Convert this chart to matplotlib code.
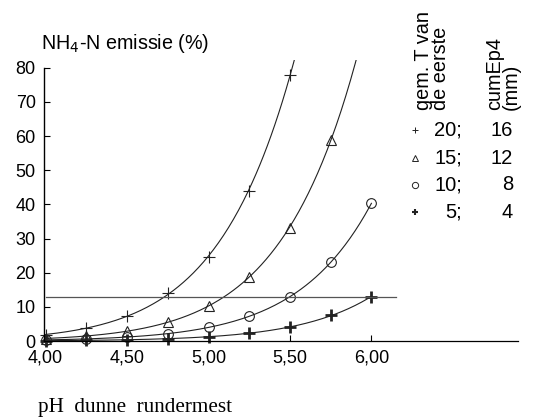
import numpy as np
import matplotlib
matplotlib.use("Agg")
import matplotlib.pyplot as plt
from matplotlib.ticker import FuncFormatter

# ---- data ----
ph = [4.00, 4.25, 4.50, 4.75, 5.00, 5.25, 5.50, 5.75, 6.00]
s20 = [1.8, 3.8, 7.3, 14.0, 24.7, 44.0, 78.0]          # T=20; cumEp4=16
s15 = [0.6, 1.5, 3.0, 5.6, 10.3, 18.7, 33.0, 59.0]     # T=15; cumEp4=12
s10 = [0.3, 0.6, 1.2, 2.1, 4.1, 7.3, 12.8, 23.0, 40.4] # T=10; cumEp4=8
s5 = [0.1, 0.2, 0.35, 0.7, 1.3, 2.2, 4.1, 7.5, 13.0]   # T=5;  cumEp4=4
curve_end = [5.53, 5.91, 6.00, 6.00]
ref_level = 12.8
legend_T = ['20;', '15;', '10;', '5;']
legend_E = ['16', '12', '8', '4']
xticks = [4.0, 4.5, 5.0, 5.5, 6.0]
yticks = [0, 10, 20, 30, 40, 50, 60, 70, 80]

W, H = 539, 419
fig = plt.figure(figsize=(W / 100, H / 100), dpi=100)
plt.rcParams['font.family'] = ['Liberation Sans', 'DejaVu Sans']
ax = fig.add_axes([44 / W, 1 - 341 / H, (518 - 44) / W, (341 - 60) / H])
ax.set_xlim(3.99, 6.9)
ax.set_ylim(0, 82.3)

col = '#222222'
styles = [
    dict(marker='+', ms=8, mew=0.8, mfc='none'),
    dict(marker='^', ms=7, mew=0.8, mfc='none'),
    dict(marker='o', ms=7, mew=0.8, mfc='none'),
    dict(marker='+', ms=8, mew=2.0, mfc='none'),
]
series = [s20, s15, s10, s5]
for vals, end, st in zip(series, curve_end, styles):
    xs = np.array(ph[:len(vals)])
    ys = np.array(vals)
    coef = np.polyfit(xs, np.log(ys), 2, w=np.sqrt(ys))
    xx = np.linspace(4.0, end, 200)
    yy = np.exp(np.polyval(coef, xx))
    ax.plot(xx, yy, color=col, lw=0.8, clip_on=True)
    ax.plot(xs, ys, linestyle='none', color=col, mec=col, clip_on=False, **st)

ax.plot([4.0, 6.15], [ref_level, ref_level], color='#555555', lw=0.9)

for s in ['top', 'right']:
    ax.spines[s].set_visible(False)
ax.spines['left'].set_bounds(0, 80)
ax.spines['left'].set_linewidth(1.0)
ax.spines['bottom'].set_linewidth(0.9)
ax.set_xticks(xticks)
ax.set_yticks(yticks)
ax.xaxis.set_major_formatter(FuncFormatter(lambda v, p: f"{v:.2f}".replace('.', ',')))
ax.tick_params(direction='in', length=4, width=0.8, labelsize=13, colors='black')
ax.tick_params(axis='y', pad=6)
ax.tick_params(axis='x', pad=6)

# title
fig.text(41 / W, 1 - 49 / H, 'NH$_4$-N emissie (%)', fontsize=14.2, va='baseline', ha='left')
# x label
fig.text(38 / W, 1 - 412 / H, 'pH  dunne  rundermest', fontsize=15.2, va='baseline', ha='left',
         family=['Liberation Serif', 'DejaVu Serif'])

# legend headers
fig.text(432 / W, 1 - 110 / H, 'gem. T van\nde eerste', rotation=90, fontsize=14.3,
         ha='center', va='bottom', linespacing=0.9, multialignment='left')
fig.text(503 / W, 1 - 110 / H, 'cumEp4\n(mm)', rotation=90, fontsize=14.3,
         ha='center', va='bottom', linespacing=0.9, multialignment='left')

rows_y = [130, 158, 185, 212]
leg_styles = [
    dict(marker='+', ms=5, mew=0.7),
    dict(marker='^', ms=4.5, mew=0.7, mfc='none'),
    dict(marker='o', ms=4.5, mew=0.7, mfc='none'),
    dict(marker='+', ms=5, mew=1.5),
]
for yv, t, e, st in zip(rows_y, legend_T, legend_E, leg_styles):
    fy = 1 - yv / H
    fig.add_artist(plt.Line2D([415 / W], [fy], linestyle='none', color=col, mec=col,
                              transform=fig.transFigure, **st))
    fig.text(462 / W, fy, t, fontsize=14.5, ha='right', va='center')
    fig.text(513 / W, fy, e, fontsize=14.5, ha='right', va='center')

fig.savefig('out.png', dpi=100)
